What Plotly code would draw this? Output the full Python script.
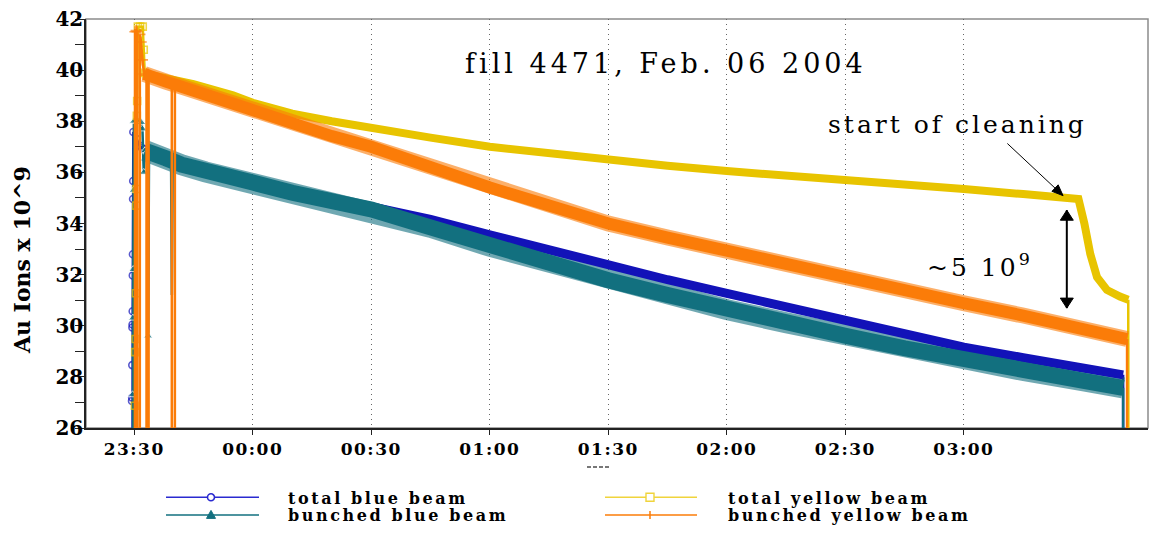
import plotly.graph_objects as go
from datetime import datetime

# ---------------------------------------------------------------------------
# Fill 4471 beam intensities (Au ions x 10^9) against clock time HH:MM:SS
# ---------------------------------------------------------------------------

# Thin traces: injection ramps, early dropouts and the final dump
blue_ramp_t = ["23:29:25", "23:29:27", "23:29:29", "23:29:31", "23:29:33", "23:29:35",
               "23:29:37", "23:29:39", "23:29:41", "23:29:43", "23:29:45", "23:29:47",
               "23:30:40", "23:31:20", "23:32:00", "23:32:30",
               None, "03:40:18", "03:40:24"]
blue_ramp_v = [0.0, 27.06, 27.19, 28.46, 29.93, 30.05, 30.57, 31.97, 32.80, 34.96, 35.66, 37.58,
               37.30, 37.05, 36.95, 36.90,
               None, 28.08, 0.0]

teal_ramp_t = ["23:29:30", "23:29:35", "23:29:40", "23:29:45", "23:29:50", "23:29:55",
               "23:31:00", "23:31:50", "23:32:05", "23:32:25", "23:32:45", "23:33:20",
               "23:33:32", "23:33:45", "23:39:20", "23:39:32", "23:39:45",
               None, "03:40:18", "03:40:22"]
teal_ramp_v = [0.0, 27.3, 30.3, 32.2, 35.3, 38.0,
               38.0, 37.95, 37.7, 36.0, 36.85, 36.8,
               29.6, 36.8, 36.35, 31.2, 36.35,
               None, 27.57, 0.0]

yellow_ramp_t = ["23:30:05", "23:30:10", "23:30:15", "23:30:20", "23:30:25", "23:30:30",
                 "23:30:35", "23:30:40", "23:30:45", "23:30:55", "23:31:30", "23:32:10",
                 "23:32:25", "23:32:40", "23:33:00",
                 None, "03:41:36", "03:41:45"]
yellow_ramp_v = [0.0, 26.87, 28.97, 29.48, 31.27, 34.70,
                 35.35, 38.21, 38.79, 41.70, 41.70, 41.70,
                 40.80, 39.90, 39.85,
                 None, 31.02, 0.0]

orange_ramp_t = ["23:30:08", "23:30:12", "23:30:30", "23:30:44", "23:30:45", "23:31:25",
                 "23:31:26", "23:31:45", "23:32:05", "23:32:30", "23:33:07", "23:33:08",
                 "23:33:38", "23:33:39", "23:39:31", "23:39:32", "23:40:17", "23:40:18",
                 "23:40:40",
                 None, "03:41:18", "03:41:22"]
orange_ramp_v = [0.0, 41.50, 41.55, 41.50, 0.0, 0.0,
                 41.40, 41.10, 40.40, 39.85, 39.80, 0.0,
                 0.0, 39.80, 39.37, 0.0, 0.0, 39.35,
                 39.33,
                 None, 29.48, 0.0]

# Main store: total blue beam
blue_t = ["23:32:30", "23:34:00", "23:42:00", "23:54:00", "00:00:00", "00:10:00", "00:20:00",
          "00:30:00", "00:45:00", "01:00:00", "01:15:00", "01:30:00", "01:45:00", "02:00:00",
          "02:15:00", "02:30:00", "02:45:00", "03:00:00", "03:15:00", "03:30:00", "03:40:18"]
blue_v = [36.85, 36.78, 36.38, 35.85, 35.65, 35.28, 34.96,
          34.66, 34.16, 33.56, 32.95, 32.35, 31.80, 31.27,
          30.72, 30.18, 29.68, 29.16, 28.75, 28.35, 28.08]

# Main store: bunched blue beam
teal_t = ["23:32:45", "23:34:00", "23:38:00", "23:42:00", "23:48:00", "23:54:00", "00:00:00",
          "00:10:00", "00:20:00", "00:30:00", "00:45:00", "01:00:00", "01:15:00", "01:30:00",
          "01:45:00", "02:00:00", "02:15:00", "02:30:00", "02:45:00", "03:00:00", "03:15:00",
          "03:30:00", "03:40:18"]
teal_v = [36.85, 36.75, 36.55, 36.30, 36.02, 35.80, 35.60,
          35.20, 34.90, 34.55, 33.85, 33.11, 32.45, 31.78,
          31.20, 30.63, 30.12, 29.61, 29.12, 28.65, 28.25,
          27.85, 27.57]

# Main store: total yellow beam (cleaning starts ~03:29)
yellow_t = ["23:33:00", "23:35:00", "23:40:00", "23:45:00", "23:50:00", "23:55:00", "00:00:00",
            "00:10:00", "00:20:00", "00:30:00", "00:45:00", "01:00:00", "01:15:00", "01:30:00",
            "01:45:00", "02:00:00", "02:15:00", "02:30:00", "02:45:00", "03:00:00", "03:15:00",
            "03:29:00", "03:30:30", "03:32:00", "03:33:42", "03:36:12", "03:39:30", "03:41:36"]
yellow_v = [39.85, 39.80, 39.62, 39.45, 39.27, 39.02, 38.72,
            38.30, 38.00, 37.77, 37.36, 37.00, 36.74, 36.49,
            36.26, 36.05, 35.89, 35.73, 35.54, 35.35, 35.15,
            34.96, 34.00, 32.80, 31.90, 31.40, 31.14, 31.02]

# Main store: bunched yellow beam
orange_t = ["23:32:30", "23:34:00", "23:38:00", "23:42:00", "23:48:00", "23:54:00", "00:00:00",
            "00:10:00", "00:20:00", "00:30:00", "00:40:00", "00:50:00", "01:00:00", "01:15:00",
            "01:30:00", "01:45:00", "02:00:00", "02:15:00", "02:30:00", "02:45:00", "03:00:00",
            "03:15:00", "03:27:00", "03:41:18"]
orange_v = [39.85, 39.80, 39.55, 39.35, 39.05, 38.72, 38.35,
            37.88, 37.42, 37.00, 36.45, 35.95, 35.41, 34.70,
            34.00, 33.45, 32.92, 32.35, 31.90, 31.35, 30.88,
            30.40, 30.00, 29.48]

x_tick_clock = ["23:30:00", "00:00:00", "00:30:00", "01:00:00",
                "01:30:00", "02:00:00", "02:30:00", "03:00:00"]
x_tick_labels = ["23:30", "00:00", "00:30", "01:00", "01:30", "02:00", "02:30", "03:00"]

series_names = ["total blue beam", "bunched blue beam", "total yellow beam", "bunched yellow beam"]

# ---------------------------------------------------------------------------
BLUE, TEAL, YELLOW, ORANGE = "#1212b8", "#12707f", "#e8c400", "#fb7c08"
SERIF = "DejaVu Serif"


def stamp(hms):
    """Clock string -> datetime; evening belongs to Feb 5, early morning to Feb 6."""
    if hms is None:
        return None
    h, m, s = (int(p) for p in hms.split(":"))
    return datetime(2004, 2, 5 if h >= 12 else 6, h, m, s)


RAMP_END = stamp("23:34:00")


def ramp_sizes(ts, vs, size):
    out = []
    for t, v in zip(ts, vs):
        d = stamp(t)
        out.append(size if (d is not None and d <= RAMP_END and v >= 26) else 0)
    return out


def spaced(text, px):
    return f'<span style="letter-spacing:{px}px">{text}</span>'


def ramp_trace(name, ts, vs, color, marker):
    mk = dict(marker)
    mk["size"] = ramp_sizes(ts, vs, mk["size"])
    return go.Scatter(x=[stamp(t) for t in ts], y=vs, mode="lines+markers", name=name,
                      line=dict(color=color, width=2.5), marker=mk, connectgaps=False,
                      showlegend=False, hoverinfo="skip")


def band_trace(name, ts, vs, color, width, opacity=1.0):
    return go.Scatter(x=[stamp(t) for t in ts], y=vs, mode="lines", name=name,
                      line=dict(color=color, width=width), opacity=opacity,
                      showlegend=False)


fig = go.Figure()

# blue beams: noisy bunched-beam fringe first, then the total beam, then the bunched core
fig.add_trace(ramp_trace(series_names[0], blue_ramp_t, blue_ramp_v, BLUE,
                         dict(symbol="circle-open", size=7, color=BLUE,
                              line=dict(width=1.6, color=BLUE))))
fig.add_trace(band_trace(series_names[1], teal_t, teal_v, TEAL, 21, 0.6))
fig.add_trace(band_trace(series_names[0], blue_t, blue_v, BLUE, 9))
fig.add_trace(ramp_trace(series_names[1], teal_ramp_t, teal_ramp_v, TEAL,
                         dict(symbol="triangle-up", size=8, color=TEAL)))
fig.add_trace(band_trace(series_names[1], teal_t, teal_v, TEAL, 16))

# yellow beams
fig.add_trace(ramp_trace(series_names[2], yellow_ramp_t, yellow_ramp_v, YELLOW,
                         dict(symbol="square-open", size=7, color=YELLOW,
                              line=dict(width=1.6, color=YELLOW))))
fig.add_trace(band_trace(series_names[2], yellow_t, yellow_v, YELLOW, 8))
fig.add_trace(ramp_trace(series_names[3], orange_ramp_t, orange_ramp_v, ORANGE,
                         dict(symbol="cross-thin", size=8, color=ORANGE,
                              line=dict(width=1.6, color=ORANGE))))
fig.add_trace(band_trace(series_names[3], orange_t, orange_v, ORANGE, 16, 0.6))
fig.add_trace(band_trace(series_names[3], orange_t, orange_v, ORANGE, 12))

# ---------------------------------------------------------------------------
# Pixel helpers for items placed outside the plotting area
PLOT_L, PLOT_R, PLOT_T, PLOT_B = 86, 1148, 9, 428


def px(x):
    return (x - PLOT_L) / (PLOT_R - PLOT_L)


def py(y):
    return (PLOT_B - y) / (PLOT_B - PLOT_T)


shapes = [
    dict(type="rect", xref="paper", yref="paper", x0=0, x1=1, y0=0, y1=1,
         line=dict(color="#8c8c8c", width=1.5), layer="below"),
    dict(type="line", xref="paper", yref="paper", x0=px(587), x1=px(610),
         y0=py(468), y1=py(468), line=dict(color="#777777", width=2, dash="4px,2px")),
]

# Arrow pointing at the start of cleaning (line + filled head)
ptr_tail = (stamp("03:11:00"), 37.13)
ptr_tip = (stamp("03:25:06"), 35.09)
shapes.append(dict(type="line", xref="x", yref="y", x0=ptr_tail[0], y0=ptr_tail[1],
                   x1=ptr_tip[0], y1=ptr_tip[1], line=dict(color="black", width=1)))
shapes.append(dict(type="path", xref="x", yref="y", xsizemode="pixel", ysizemode="pixel",
                   xanchor=ptr_tip[0], yanchor=ptr_tip[1],
                   path="M0,0 L-4.9,10.8 L-11.1,4.3 Z",
                   line=dict(color="black", width=1), fillcolor="black"))

# Double arrow marking the bunched / total yellow gap
gap_x = stamp("03:26:03")
gap_top, gap_bot = 34.52, 30.69
shapes.append(dict(type="line", xref="x", yref="y", x0=gap_x, x1=gap_x,
                   y0=gap_bot, y1=gap_top, line=dict(color="black", width=2)))
for yv, path in ((gap_top, "M0,0 L-6.5,-10 L6.5,-10 Z"), (gap_bot, "M0,0 L-6.5,10 L6.5,10 Z")):
    shapes.append(dict(type="path", xref="x", yref="y", xsizemode="pixel", ysizemode="pixel",
                       xanchor=gap_x, yanchor=yv, path=path,
                       line=dict(color="black", width=1), fillcolor="black"))

annotations = []

# Hand-built legend: two columns, two rows
legend_rows = [
    (series_names[0], "#2a2ad0", "circle", 166, 259, 211, 286, 499),
    (series_names[1], TEAL, "triangle", 166, 259, 211, 286, 517),
    (series_names[2], "#f0d43c", "square", 605, 697, 650, 726, 499),
    (series_names[3], ORANGE, "tick", 605, 697, 650, 726, 517),
]
for label, col, sym, lx0, lx1, mx, tx, ry in legend_rows:
    shapes.append(dict(type="line", xref="paper", yref="paper", x0=px(lx0), x1=px(lx1),
                       y0=py(ry), y1=py(ry), line=dict(color=col, width=1.5)))
    anchor = dict(xref="paper", yref="paper", xsizemode="pixel", ysizemode="pixel",
                  xanchor=px(mx), yanchor=py(ry))
    if sym == "circle":
        shapes.append(dict(type="circle", x0=-3.5, x1=3.5, y0=-3.5, y1=3.5,
                           line=dict(color=col, width=1.6), fillcolor="white", **anchor))
    elif sym == "square":
        shapes.append(dict(type="rect", x0=-4, x1=4, y0=-4, y1=4,
                           line=dict(color=col, width=1.4), fillcolor="white", **anchor))
    elif sym == "triangle":
        shapes.append(dict(type="path", path="M-4.5,-3.5 L4.5,-3.5 L0,4.5 Z",
                           line=dict(color=col, width=1), fillcolor=col, **anchor))
    else:
        shapes.append(dict(type="line", x0=0, x1=0, y0=-4, y1=4,
                           line=dict(color=col, width=1.5), **anchor))
    annotations.append(dict(
        xref="paper", yref="paper", x=px(tx), y=py(ry + 1), xanchor="left", yanchor="middle",
        text="<b>" + spaced(label, 2.6) + "</b>", showarrow=False,
        font=dict(family=SERIF, size=16, color="black", weight="bold")))

# Y axis title
annotations.append(dict(
    xref="paper", yref="paper", x=px(22), y=py(256), xanchor="center", yanchor="middle",
    textangle=-90, text="<b>Au Ions x 10^9</b>", showarrow=False,
    font=dict(family=SERIF, size=22, color="black")))

# Text inside the plot
annotations += [
    dict(x=stamp("01:44:36"), y=40.25, xref="x", yref="y", showarrow=False,
         text=spaced("fill 4471, Feb. 06 2004", 4),
         font=dict(family=SERIF, size=27, color="black")),
    dict(x=stamp("02:58:30"), y=37.88, xref="x", yref="y", showarrow=False,
         text=spaced("start of cleaning", 3),
         font=dict(family=SERIF, size=25, color="black")),
    dict(x=stamp("03:04:06"), y=32.34, xref="x", yref="y", showarrow=False,
         text=spaced("~5 10<sup>9</sup>", 3),
         font=dict(family=SERIF, size=25, color="black")),
]

fig.update_layout(
    width=1155, height=533,
    margin=dict(l=PLOT_L, r=1155 - PLOT_R, t=PLOT_T, b=533 - PLOT_B),
    paper_bgcolor="white", plot_bgcolor="white",
    showlegend=False,
    shapes=shapes, annotations=annotations,
    xaxis=dict(
        type="date", range=[stamp("23:17:48"), stamp("03:46:36")],
        tickmode="array", tickvals=[stamp(t) for t in x_tick_clock],
        ticktext=[spaced(s, 1.5) for s in x_tick_labels],
        ticks="outside", ticklen=5, tickwidth=1.2, tickcolor="#222",
        showline=True, linecolor="#222", linewidth=1.5,
        showgrid=True, gridcolor="#666666", gridwidth=1, griddash="1px,4px",
        zeroline=False,
        tickfont=dict(family=SERIF, size=17, color="black", weight="bold"),
    ),
    yaxis=dict(
        range=[26, 42], tickmode="linear", tick0=26, dtick=2,
        ticks="outside", ticklen=9, tickwidth=1.2, tickcolor="#222",
        minor=dict(tick0=26, dtick=1, ticks="outside", ticklen=9, tickwidth=1.2,
                   tickcolor="#222", showgrid=False),
        showline=True, linecolor="#222", linewidth=1.5,
        showgrid=False, zeroline=False, ticklabelstandoff=-12,
        ticklabeloverflow="allow",
        tickfont=dict(family=SERIF, size=20, color="black", weight="bold"),
    ),
)

fig.write_html("out.html")
